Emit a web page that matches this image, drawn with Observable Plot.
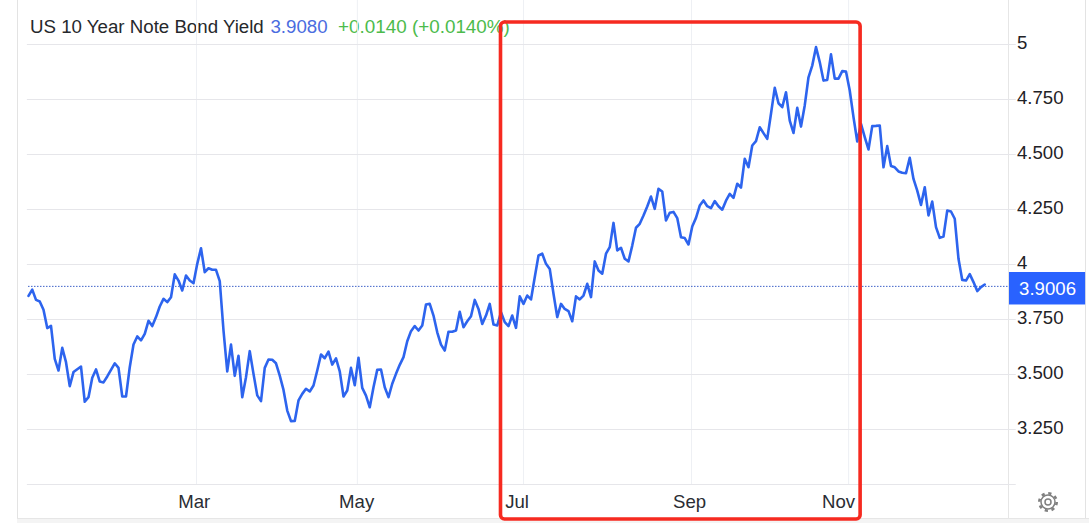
<!DOCTYPE html>
<html>
<head>
<meta charset="utf-8">
<script src="https://cdn.jsdelivr.net/npm/d3@7"></script>
<script src="https://cdn.jsdelivr.net/npm/@observablehq/plot@0.6"></script>
<style>
  html, body { margin: 0; padding: 0; background: #fff; overflow: hidden; }
  #page { position: relative; width: 1089px; height: 523px; overflow: hidden; font-family: "Liberation Sans", Arial, sans-serif; }
  #title { position: absolute; left: 30px; top: 16px; font-size: 18.7px; line-height: 22px; color: #26282c; white-space: pre; }
  #title .last { color: #4a6ce0; margin-left: 1.5px; }
  #title .change { color: #4cbb4c; font-size: 18.85px; }
  .chrome { position: absolute; }
  #chart { position: absolute; left: 0; top: 0; }
  #gear { position: absolute; left: 1036px; top: 490px; }
</style>
</head>
<body>
<div id="page">
  <div class="chrome" style="left:17px;top:0;width:1px;height:518px;background:#e3e3e3"></div>
  <div class="chrome" style="left:1008px;top:0;width:1px;height:518px;background:#e6e6e6"></div>
  <div class="chrome" style="left:1085px;top:0;width:1px;height:518px;background:#e3e3e3"></div>
  <div class="chrome" style="left:17px;top:518px;width:1072px;height:5px;background:#f4f4f4;border-top:1px solid #e6e6e6"></div>
  <div id="title">US 10 Year Note Bond Yield <span class="last">3.9080</span>  <span class="change">+0.0140 (+0.0140%)</span></div>
  <div id="chart"></div>
  <svg id="gear" width="24" height="24" viewBox="0 0 24 24">
    <circle cx="12" cy="12" r="8.7" fill="none" stroke="#808080" stroke-width="2.6" stroke-dasharray="3.2 3.63"/>
    <circle cx="12" cy="12" r="7" fill="#fff" stroke="#808080" stroke-width="1.5"/>
    <circle cx="12" cy="12" r="3" fill="none" stroke="#808080" stroke-width="1.5"/>
  </svg>
</div>
<script>
const seriesName = "US 10 Year Note Bond Yield";
const yields = [
  3.857,3.886,3.839,3.832,3.794,3.711,3.721,3.571,3.518,3.621,
  3.556,3.447,3.511,3.524,3.536,3.376,3.397,3.485,3.523,3.468,
  3.464,3.491,3.521,3.551,3.530,3.400,3.400,3.533,3.636,3.673,
  3.655,3.685,3.744,3.720,3.761,3.809,3.844,3.829,3.851,3.955,
  3.927,3.882,3.950,3.927,3.915,4.003,4.074,3.965,3.983,3.976,
  3.976,3.924,3.700,3.514,3.636,3.494,3.585,3.397,3.488,3.606,
  3.503,3.405,3.379,3.530,3.568,3.567,3.551,3.495,3.430,3.336,
  3.288,3.289,3.382,3.412,3.435,3.423,3.450,3.518,3.591,3.574,
  3.604,3.545,3.573,3.514,3.400,3.427,3.530,3.451,3.576,3.439,
  3.404,3.351,3.442,3.521,3.523,3.442,3.397,3.458,3.503,3.544,
  3.579,3.651,3.697,3.720,3.700,3.723,3.818,3.821,3.768,3.692,
  3.636,3.609,3.694,3.694,3.700,3.785,3.715,3.742,3.765,3.839,
  3.798,3.730,3.768,3.821,3.727,3.723,3.783,3.738,3.720,3.768,
  3.712,3.855,3.821,3.859,3.841,3.942,4.041,4.049,4.003,3.980,
  3.867,3.761,3.821,3.798,3.788,3.742,3.855,3.841,3.859,3.912,
  3.852,4.014,3.973,3.958,4.049,4.079,4.189,4.064,4.076,4.026,
  4.014,4.086,4.167,4.185,4.223,4.264,4.309,4.253,4.344,4.332,
  4.200,4.235,4.239,4.211,4.124,4.120,4.091,4.173,4.212,4.268,
  4.291,4.265,4.256,4.288,4.265,4.249,4.290,4.321,4.303,4.367,
  4.350,4.480,4.442,4.541,4.561,4.624,4.597,4.571,4.685,4.803,
  4.733,4.715,4.783,4.654,4.598,4.712,4.627,4.723,4.851,4.904,
  4.988,4.920,4.836,4.839,4.955,4.845,4.845,4.879,4.877,4.791,
  4.670,4.559,4.639,4.579,4.523,4.629,4.630,4.632,4.442,4.538,
  4.448,4.442,4.423,4.417,4.415,4.485,4.389,4.336,4.271,4.351,
  4.223,4.286,4.170,4.121,4.127,4.245,4.241,4.208,4.026,3.930,
  3.927,3.956,3.920,3.879,3.897,3.909
];
const yTicks = [5, 4.75, 4.5, 4.25, 4, 3.75, 3.5, 3.25];
const yTickLabels = ["5", "4.750", "4.500", "4.250", "4", "3.750", "3.500", "3.250"];
const baseline = 3;
const monthLabels = ["Mar", "May", "Jul", "Sep", "Nov"];
const monthGrid = [44.8, 87.7, 132, 176.8, 218.7];
const monthLabelAt = [44.2, 87.5, 130.3, 176.3, 216];
const lastPrice = 3.9006;
const lastLabel = "3.9006";
const highlight = {x1: 126, x2: 221.9, y1: 5.1, y2: 2.841};
const tag = {x1: 261.6, x2: 281.9, y1: 3.9636, y2: 3.816};
const indices = yields.map((d, i) => i);

const font = '"Liberation Sans", Arial, sans-serif';
const plot = Plot.plot({
  width: 1089,
  height: 523,
  marginLeft: 28,
  marginRight: 79,
  marginTop: 44,
  marginBottom: 39,
  style: {background: "transparent", fontFamily: font, fontSize: "18.6px", overflow: "visible", color: "#1f2226"},
  x: {domain: [0, 261.87], axis: null},
  y: {domain: [3, 5], axis: null},
  marks: [
    Plot.ruleX(monthGrid, {y1: baseline, y2: 5.2, stroke: "#eef0f4", strokeWidth: 1}),
    Plot.ruleY([...yTicks, baseline], {x1: -0.3, x2: 263.4, stroke: "#e6e6ea", strokeWidth: 1}),
    Plot.axisY({anchor: "right", ticks: yTicks, tickSize: 0, tickPadding: 6.5, textAnchor: "start",
      tickFormat: d => yTickLabels[yTicks.indexOf(d)], label: null, fill: "#1f2226", dy: -1}),
    Plot.axisX({anchor: "bottom", ticks: monthLabelAt, tickSize: 0, tickPadding: 10,
      tickFormat: d => monthLabels[monthLabelAt.indexOf(d)], label: null, fill: "#2a2d33"}),
    Plot.ruleY([lastPrice], {x1: 0, x2: 261.87, stroke: "#3f63c8", strokeWidth: 1, strokeDasharray: "1.5 1.5"}),
    Plot.lineY(yields, {x: indices, y: yields, stroke: "#2d64ee", strokeWidth: 2.6, curve: "linear"}),
    Plot.rect([tag], {x1: "x1", x2: "x2", y1: "y1", y2: "y2", fill: "#2962ff"}),
    Plot.text([lastLabel], {x: d => (tag.x1 + tag.x2) / 2, y: d => (tag.y1 + tag.y2) / 2, text: d => d, fill: "#fff", fontSize: 18.6}),
    Plot.rect([highlight], {x1: "x1", x2: "x2", y1: "y1", y2: "y2", fill: "none", stroke: "#f62a20", strokeWidth: 3.6, rx: 4})
  ]
});
document.getElementById("chart").appendChild(plot);
</script>
</body>
</html>
